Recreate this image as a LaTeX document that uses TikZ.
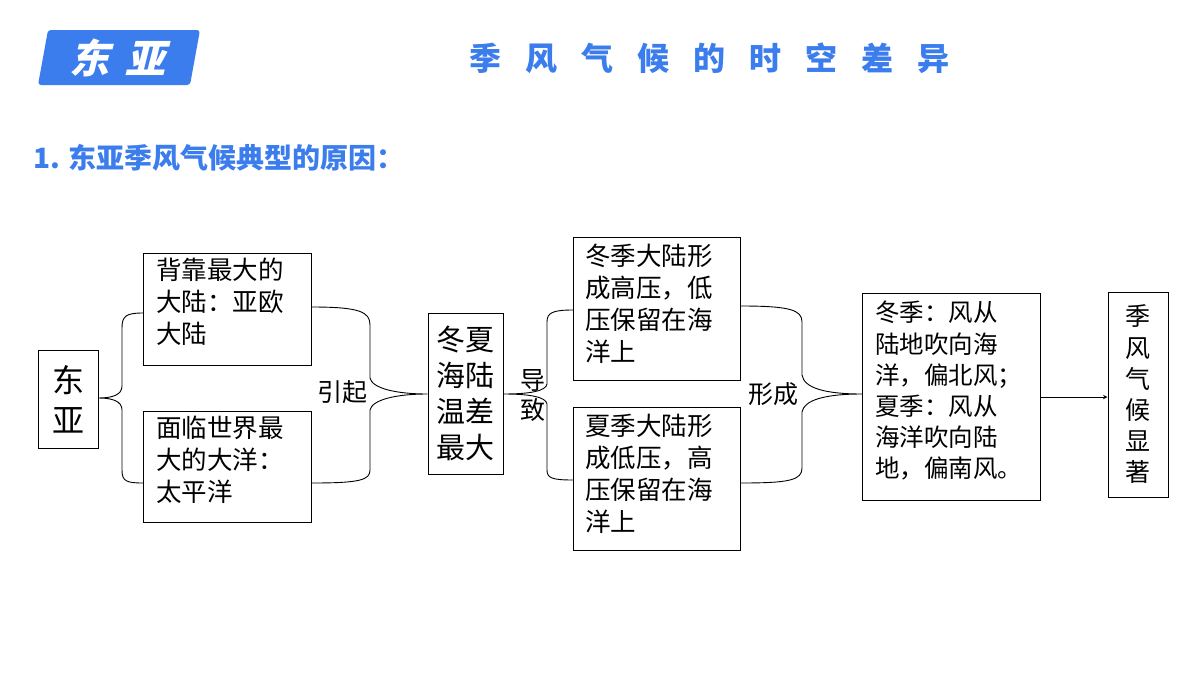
\documentclass[tikz,border=0pt]{standalone}
\usepackage{fontspec}
\setmainfont{Noto Sans CJK SC}
\begin{document}
\begin{tikzpicture}[x=1pt,y=-1pt,
  box/.style={draw,line width=1pt,inner sep=0pt},
  txt/.style={anchor=north west,inner sep=0pt,align=left,font=\fontsize{25.5}{32}\selectfont},
  br/.style={line width=0.9pt}]
\useasboundingbox (0,0) rectangle (1200,675);
\definecolor{hb}{RGB}{59,125,236}
\fill[hb,rounded corners=3pt] (48,30) -- (200,30) -- (190,85) -- (38,85) -- cycle;
\node[text=white,font=\fontsize{40}{40}\selectfont\bfseries,xslant=0.25] (hd) at (121,58) {东\hspace{0.4em}亚};
\node[text=hb,font=\fontsize{32}{32}\selectfont\bfseries] (tt) at (709,58) {季\hspace{0.75em}风\hspace{0.75em}气\hspace{0.75em}候\hspace{0.75em}的\hspace{0.75em}时\hspace{0.75em}空\hspace{0.75em}差\hspace{0.75em}异};
\node[text=hb,anchor=west,font=\fontsize{28}{28}\selectfont\bfseries] (st) at (30,158) {1. 东亚季风气候典型的原因：};
\node[box,minimum width=60pt,minimum height=98pt,align=center,font=\fontsize{32}{40}\selectfont] (ea) at (68,399) {东\\亚};
\node[box,minimum width=168pt,minimum height=112pt,anchor=north west] (a) at (143,253) {};
\node[txt] (at) at (156,258) {背靠最大的\\大陆：亚欧\\大陆};
\node[box,minimum width=168pt,minimum height=111pt,anchor=north west] (b) at (143,411) {};
\node[txt] (bt) at (156,416) {面临世界最\\大的大洋：\\太平洋};
\node[box,minimum width=75pt,minimum height=161pt,align=center,font=\fontsize{29}{36}\selectfont] (c) at (465.5,393.5) {冬夏\\海陆\\温差\\最大};
\node[box,minimum width=167pt,minimum height=143pt,anchor=north west] (d) at (573,237) {};
\node[txt] (dt) at (585,244) {冬季大陆形\\成高压，低\\压保留在海\\洋上};
\node[box,minimum width=167pt,minimum height=143pt,anchor=north west] (e) at (573,407) {};
\node[txt] (et) at (585,414) {夏季大陆形\\成低压，高\\压保留在海\\洋上};
\node[box,minimum width=178pt,minimum height=207pt,anchor=north west] (f) at (862,293) {};
\node[txt,font=\fontsize{24.5}{31.2}\selectfont] (ft) at (875,301) {冬季：风从\\陆地吹向海\\洋，偏北风；\\夏季：风从\\海洋吹向陆\\地，偏南风。};
\node[box,minimum width=60pt,minimum height=205pt,align=center,font=\fontsize{25}{31.2}\selectfont] (g) at (1138,394.5) {季\\风\\气\\候\\显\\著};
\node[font=\fontsize{25}{25}\selectfont] (l1) at (342,392) {引起};
\node[font=\fontsize{25}{30}\selectfont,align=center] (l2) at (533,396) {导\\致};
\node[font=\fontsize{25}{25}\selectfont] (l3) at (773,394) {形成};
% braces
\draw[br] (a.west |- 0,313) .. controls (126,313) and (122,316) .. (122,328) -- (122,386) .. controls (122,395) and (112,398) .. (ea.east |- 0,398) .. controls (112,398) and (122,401) .. (122,410) -- (122,470) .. controls (122,481) and (126,483) .. (b.west |- 0,483);
\draw[br] (a.east |- 0,307) .. controls (360,307) and (370,312) .. (370,325) -- (370,378) .. controls (372,388) and (395,394) .. (c.west |- 0,394) .. controls (395,394) and (372,400) .. (370,410) -- (370,470) .. controls (370,480) and (360,483) .. (b.east |- 0,483);
\draw[br] (d.west |- 0,310) .. controls (552,310) and (547,313) .. (547,322) -- (547,384) .. controls (546,391) and (530,394) .. (c.east |- 0,394) .. controls (530,394) and (546,397) .. (547,404) -- (547,470) .. controls (547,478) and (552,480) .. (e.west |- 0,480);
\draw[br] (d.east |- 0,306) .. controls (790,306) and (802,310) .. (802,322) -- (802,375) .. controls (804,388) and (825,394) .. (f.west |- 0,394) .. controls (825,394) and (804,400) .. (802,412) -- (802,468) .. controls (802,480) and (790,483) .. (e.east |- 0,483);
\draw[line width=1pt,->,>=stealth] (f.east |- 0,397) -- (g.west |- 0,397);
\end{tikzpicture}
\end{document}
